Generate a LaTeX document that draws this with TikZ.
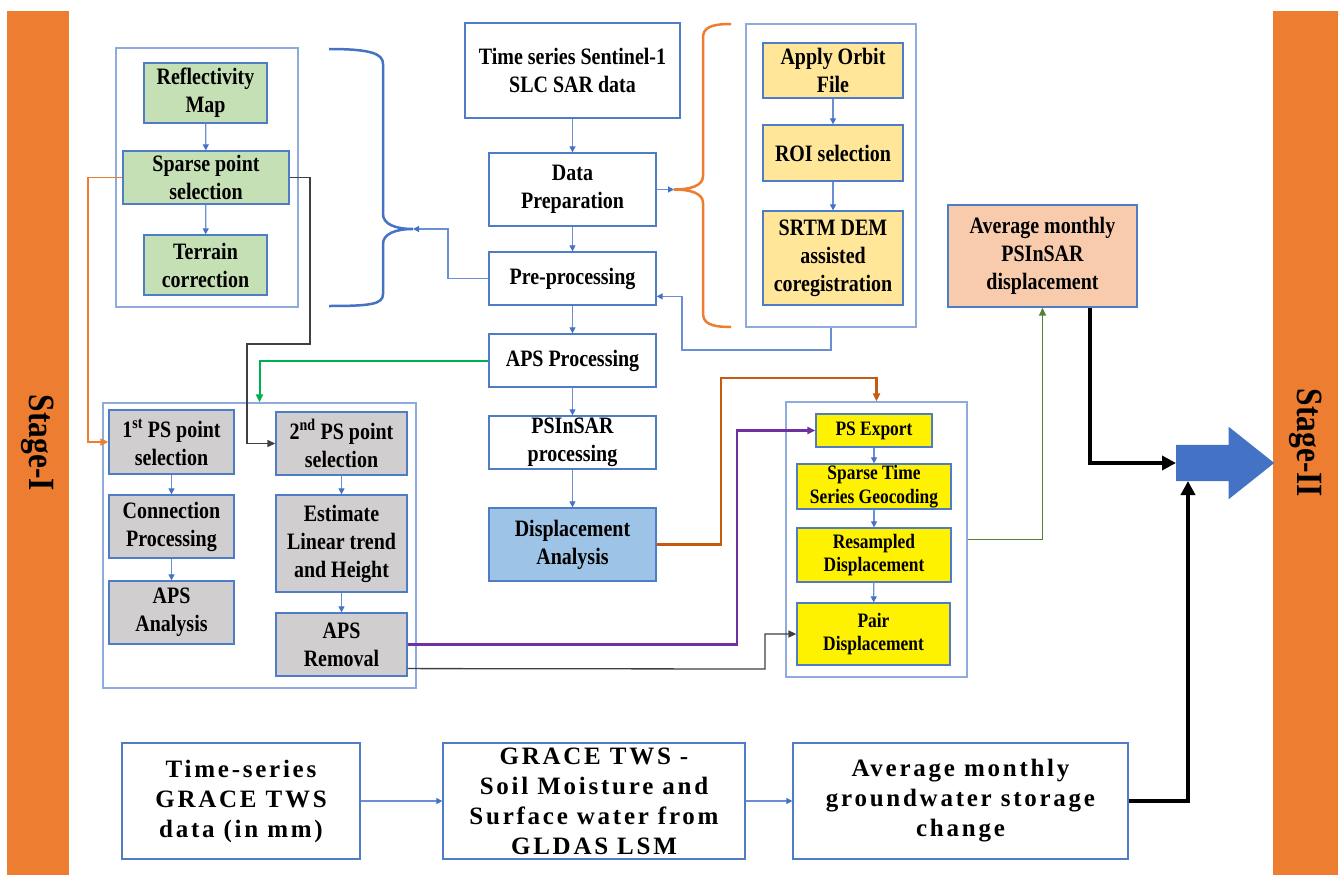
\documentclass[tikz,border=0pt]{standalone}
\usepackage{fontspec}
\setmainfont{Liberation Serif}[FakeStretch=0.85]
\newfontfamily\gracefont{Liberation Serif}[LetterSpace=11]
\usetikzlibrary{arrows.meta}
\usetikzlibrary{shapes.arrows}
\usetikzlibrary{calc}

\definecolor{barorange}{HTML}{ED7D31}
\definecolor{boxblue}{HTML}{4F7CC6}
\definecolor{groupblue}{HTML}{8FAADC}
\definecolor{flowblue}{HTML}{6A8FD4}
\definecolor{tipblue}{HTML}{4472C4}
\definecolor{mapgreen}{HTML}{C5E0B4}
\definecolor{coregyellow}{HTML}{FFE699}
\definecolor{psgray}{HTML}{D0CECE}
\definecolor{dispblue}{HTML}{9DC3E6}
\definecolor{salmon}{HTML}{F8CBAD}
\definecolor{exportbrown}{HTML}{C55A11}
\definecolor{removalpurple}{HTML}{7030A0}
\definecolor{apsgreen}{HTML}{00B050}
\definecolor{monthlygreen}{HTML}{548235}
\definecolor{linkgray}{HTML}{404040}

\tikzset{
  box/.style={draw=boxblue, line width=1.3pt, inner sep=0pt, align=center,
    font=\fontsize{23.5}{28}\selectfont\bfseries},
  psbox/.style={box, fill=yellow, font=\fontsize{20.5}{23.5}\selectfont\bfseries},
  gracebox/.style={box, font=\fontsize{25}{30}\selectfont\gracefont\bfseries},
  group/.style={draw=groupblue, line width=1.3pt, inner sep=0pt},
  bar/.style={fill=barorange, inner sep=0pt, font=\fontsize{37}{40}\selectfont\bfseries},
  stagearrow/.style={single arrow, fill=tipblue, inner xsep=0pt, inner ysep=18pt,
    minimum height=98pt, single arrow head extend=18pt, single arrow tip angle=77},
  flow/.style={draw=flowblue, line width=1.2pt,
    -{Triangle[length=6pt,width=6pt,color=tipblue]}},
  link/.style={line width=1.5pt, -{Triangle[length=8pt,width=7pt]}},
  heavy/.style={line width=4pt, -{Triangle[length=14pt,width=14pt]}},
  curly/.style={line width=2.5pt}
}

\begin{document}
\begin{tikzpicture}[x=1pt, y=-1pt]
    \useasboundingbox (0, 0) rectangle (1338, 875);

    \path (38, 443) node [bar, rotate=-90, minimum width=864pt, minimum height=62pt] (st1) {Stage-I};
    \path (1305.5, 443) node [bar, rotate=-90, minimum width=864pt, minimum height=65pt] (st2) {Stage-II};

    \path (207, 177.5) node [group, minimum width=182pt, minimum height=259pt] (mapgrp) {};
    \path (205.5, 93) node [box, fill=mapgreen, minimum width=123pt, minimum height=60pt] (refl) {Reflectivity\\Map};
    \path (206, 177.5) node [box, fill=mapgreen, minimum width=166pt, minimum height=53pt] (sparse) {Sparse point\\selection};
    \path (205.5, 265) node [box, fill=mapgreen, minimum width=123pt, minimum height=60pt] (terr) {Terrain\\correction};
    \draw [flow] (refl) -- (sparse);
    \draw [flow] (sparse) -- (terr);

    \path (572.5, 70.5) node [box, minimum width=215pt, minimum height=95pt] (slc) {Time series Sentinel-1\\SLC SAR data};
    \path (572.5, 189.5) node [box, minimum width=167pt, minimum height=73pt] (dprep) {Data\\Preparation};
    \path (572.5, 278.5) node [box, minimum width=167pt, minimum height=53pt] (prep) {Pre-processing};
    \path (572.5, 360.5) node [box, minimum width=167pt, minimum height=53pt] (aps) {APS Processing};
    \path (572.5, 442.5) node [box, minimum width=167pt, minimum height=53pt] (psin) {PSInSAR\\processing};
    \path (572.5, 544.5) node [box, fill=dispblue, minimum width=167pt, minimum height=73pt] (disp) {Displacement\\Analysis};
    \draw [flow] (slc) -- (dprep);
    \draw [flow] (dprep) -- (prep);
    \draw [flow] (prep) -- (aps);
    \draw [flow] (aps) -- (psin);
    \draw [flow] (psin) -- (disp);

    \path (831, 175.5) node [group, minimum width=170pt, minimum height=303pt] (coreg) {};
    \path (833, 70.5) node [box, fill=coregyellow, minimum width=140pt, minimum height=55pt] (orbit) {Apply Orbit\\File};
    \path (833, 153) node [box, fill=coregyellow, minimum width=140pt, minimum height=56pt] (roi) {ROI selection};
    \path (833, 258) node [box, fill=coregyellow, minimum width=140pt, minimum height=94pt] (srtm) {SRTM DEM\\assisted\\coregistration};
    \draw [flow] (orbit) -- (roi);
    \draw [flow] (roi) -- (srtm);

    \coordinate (btip) at (413, 229);
    \draw [curly, draw=tipblue] (329, 49) .. controls (372, 49) and (383, 54) .. (383, 64)
        -- (383, 214) .. controls (383, 224) and (395, 229) .. (btip)
        .. controls (395, 229) and (383, 234) .. (383, 244)
        -- (383, 294) .. controls (383, 304) and (372, 306) .. (329, 306);
    \draw [flow] (prep.west) -- (448, 278.5) |- (btip);

    \coordinate (otip) at (674, 189.5);
    \draw [curly, draw=barorange] (731, 24) .. controls (710, 24) and (703, 28) .. (703, 38)
        -- (703, 176) .. controls (703, 186) and (690, 189.5) .. (otip)
        .. controls (690, 189.5) and (703, 193) .. (703, 203)
        -- (703, 313) .. controls (703, 323) and (710, 327) .. (731, 327);
    \draw [flow] (dprep.east) -- (otip);
    \draw [flow] (coreg.south) -- (831, 350) -- (682, 350) |- (prep.-12.5);

    \path (1042.5, 256) node [box, fill=salmon, minimum width=189pt, minimum height=102pt] (avgps) {Average monthly\\PSInSAR\\displacement};

    \path (259.5, 545.5) node [group, minimum width=313pt, minimum height=285pt] (psgrp) {};
    \path (171.5, 442) node [box, fill=psgray, minimum width=125pt, minimum height=64pt] (ps1) {1\textsuperscript{st} PS point\\selection};
    \path (171.5, 526.5) node [box, fill=psgray, minimum width=125pt, minimum height=63pt] (conn) {Connection\\Processing};
    \path (171.5, 612.5) node [box, fill=psgray, minimum width=125pt, minimum height=63pt] (apsan) {APS\\Analysis};
    \path (341.5, 443.5) node [box, fill=psgray, minimum width=131pt, minimum height=63pt] (ps2) {2\textsuperscript{nd} PS point\\selection};
    \path (341.5, 543.5) node [box, fill=psgray, minimum width=131pt, minimum height=97pt] (est) {Estimate\\Linear trend\\and Height};
    \path (341.5, 644.5) node [box, fill=psgray, minimum width=131pt, minimum height=63pt] (apsrem) {APS\\Removal};
    \draw [flow] (ps1) -- (conn);
    \draw [flow] (conn) -- (apsan);
    \draw [flow] (ps2) -- (est);
    \draw [flow] (est) -- (apsrem);

    \path (876.5, 539.5) node [group, minimum width=181pt, minimum height=275pt] (expgrp) {};
    \path (874, 430.5) node [psbox, minimum width=116pt, minimum height=33pt] (psexp) {PS Export};
    \path (874, 486.5) node [psbox, minimum width=154pt, minimum height=45pt] (geo) {Sparse Time\\Series Geocoding};
    \path (874, 555) node [psbox, minimum width=154pt, minimum height=54pt] (resamp) {Resampled\\Displacement};
    \path (873.5, 634) node [psbox, minimum width=153pt, minimum height=62pt] (pair) {Pair\\Displacement};
    \draw [flow] (psexp) -- (geo);
    \draw [flow] (geo) -- (resamp);
    \draw [flow] (resamp) -- (pair);

    \draw [link, draw=barorange] (sparse.west) -- (88, 177.5) |- (ps1.west);
    \draw [link, line width=1.3pt, draw=linkgray] (sparse.east) -- (310, 177.5) -- (310, 344) -- (247, 344) |- (ps2.west);
    \draw [link, line width=2pt, draw=apsgreen] (aps.west) -| (psgrp.north);
    \draw [link, line width=2.5pt, draw=exportbrown] (disp.east) -- (721, 544.5) -- (721, 378) -| (expgrp.north);
    \draw [link, line width=2.5pt, draw=removalpurple] (apsrem.east) -- (737, 644.5) |- (psexp.west);
    \draw [link, line width=1.3pt, draw=linkgray] (apsrem.-20.5) -- (765, 669) |- (pair.west);
    \draw [link, draw=monthlygreen] (expgrp.east) -| (avgps.south);

    \path (1176, 463) node [stagearrow, anchor=tail] (stgin) {};
    \draw [heavy] ([xshift=47.5pt]avgps.south) |- (stgin.tail);

    \path (241, 801) node [gracebox, minimum width=238pt, minimum height=116pt] (grace) {Time-series\\GRACE TWS\\data (in mm)};
    \path (594, 801) node [gracebox, minimum width=302pt, minimum height=116pt] (gldas) {GRACE TWS -\\Soil Moisture and\\Surface water from\\GLDAS LSM};
    \path (960.5, 801) node [gracebox, minimum width=335pt, minimum height=116pt] (gws) {Average monthly\\groundwater storage\\change};
    \draw [flow] (grace) -- (gldas);
    \draw [flow] (gldas) -- (gws);
    \draw [heavy] (gws.east) -| ($(stgin.tail)+(12, 18)$);
\end{tikzpicture}
\end{document}
